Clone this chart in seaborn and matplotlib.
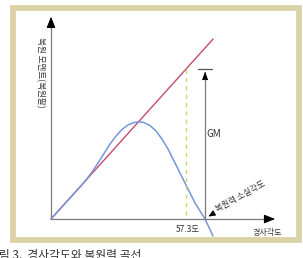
import numpy as np
import pandas as pd
import seaborn as sns
import matplotlib
matplotlib.use("Agg")
import matplotlib.pyplot as plt
from matplotlib.patches import Rectangle

# ---- data (heel angle in degrees, righting arm in GM units) ----
gz_angle = [0, 3.82, 8.06, 12.31, 14.86, 17.40, 19.95, 22.50, 25.04, 27.59, 30.14,
            32.68, 35.23, 37.35, 39.47, 42.02, 44.57, 47.11, 49.66, 52.21, 54.75,
            57.72, 61.12, 65.37, 68.76]
gz_value = [0, 0.067, 0.14, 0.213, 0.26, 0.313, 0.373, 0.437, 0.5, 0.553, 0.597,
            0.627, 0.643, 0.648, 0.643, 0.623, 0.587, 0.533, 0.467, 0.387, 0.307,
            0.213, 0.107, 0.0, -0.113]
tangent_angle = [0, 68.8]
tangent_value = [0, 1.2]
GM = 1.0
angle_one_rad = 57.3
vanishing_angle = 65.4

sns.set_theme(style="white")
plt.rcParams['font.family'] = ['Noto Sans CJK KR', 'DejaVu Sans']

W, H = 303, 258
fig = plt.figure(figsize=(W / 100, H / 100), dpi=100)
ax = fig.add_axes([0, 0, 1, 1])
ax.set_xlim(-21.65, 106.96)
ax.set_ylim(-0.26, 1.46)
ax.axis('off')

# frame
fig.patches.append(Rectangle((12.5 / W, 1 - 239.5 / H), 286 / W, 231.5 / H,
                             transform=fig.transFigure, fill=False,
                             edgecolor='#DCD2A8', lw=4.2))

# axes lines
axis_col = '#7a7a7a'
ax.plot([0, 0], [0, 1.33], color=axis_col, lw=0.9)
ax.plot([0, 93.5], [0, 0], color=axis_col, lw=0.9)
ax.annotate('', xy=(0, 1.367), xytext=(0, 1.30),
            arrowprops=dict(arrowstyle='-|>,head_length=0.55,head_width=0.22',
                            color='black', lw=0.8))
ax.annotate('', xy=(96.3, 0), xytext=(92, 0),
            arrowprops=dict(arrowstyle='-|>,head_length=0.55,head_width=0.22',
                            color='black', lw=0.8))

# curves
sns.lineplot(x=tangent_angle, y=tangent_value, ax=ax, color='#C64B6C', lw=1.0,
             sort=False, estimator=None)
sns.lineplot(x=gz_angle, y=gz_value, ax=ax, color='#7497DC', lw=1.1,
             sort=False, estimator=None)

# 57.3 deg dashed line
ax.plot([angle_one_rad, angle_one_rad], [0.027, GM], color='#C8D86A', lw=1.0,
        dashes=(3, 3))

# GM arrow
ax.plot([vanishing_angle, vanishing_angle], [0, GM - 0.05], color=axis_col, lw=0.9)
ax.annotate('', xy=(vanishing_angle, GM), xytext=(vanishing_angle, GM - 0.05),
            arrowprops=dict(arrowstyle='-|>,head_length=0.4,head_width=0.15',
                            color='black', lw=0.6))
ax.plot([62.4, 68.3], [GM, GM], color='#555555', lw=0.9)

# labels
ax.text(-4.67, 0.98, '복원 모멘트(복원팔)', rotation=270, fontsize=6.2,
        ha='center', va='center', color='#333333')
ax.text(69.2, 0.567, 'GM', fontsize=7, ha='center', va='center', color='#333333')
ax.text(58.1, -0.067, '57.3도', fontsize=6, ha='center', va='center', color='#333333')
ax.text(91.7, -0.087, '경사각도', fontsize=5.8, ha='center', va='center', color='#333333')
ax.text(70.3, 0.06, '복원력 소실각도', fontsize=6, rotation=29, rotation_mode='anchor',
        ha='left', va='center', color='#333333')
ax.annotate('', xy=(65.8, 0.007), xytext=(69.8, 0.045),
            arrowprops=dict(arrowstyle='-|>,head_length=0.35,head_width=0.15',
                            color='black', lw=0.6))

# caption (cut at the bottom, as in the reference)
fig.text(-12 / W, 1 - 249 / H, '그림 3.  경사각도와 복원력 곡선', fontsize=8.5,
         ha='left', va='top', color='#333333')

fig.savefig('out.png', dpi=100)
